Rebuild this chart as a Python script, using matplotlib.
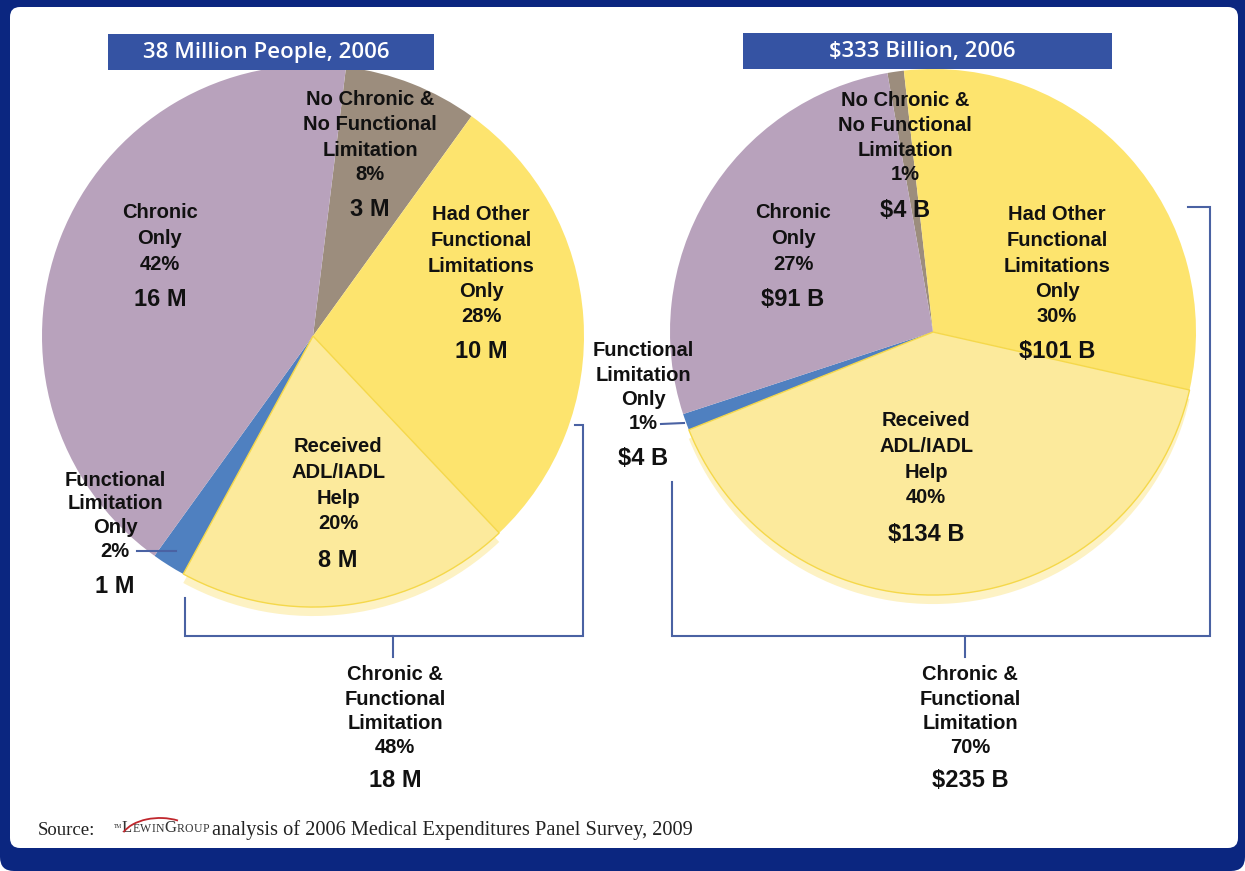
import matplotlib
matplotlib.use("Agg")
import matplotlib.pyplot as plt
from matplotlib.patches import Rectangle, FancyBboxPatch, Wedge, Arc

# ---------------- data ----------------
segment_names = ["No Chronic &\nNo Functional\nLimitation",
                 "Had Other\nFunctional\nLimitations\nOnly",
                 "Received\nADL/IADL\nHelp",
                 "Functional\nLimitation\nOnly",
                 "Chronic\nOnly"]
people_pct = [8, 28, 20, 2, 42]
people_vals = ["3 M", "10 M", "8 M", "1 M", "16 M"]
spend_pct = [1, 30, 40, 1, 27]
spend_vals = ["$4 B", "$101 B", "$134 B", "$4 B", "$91 B"]
combined_name = "Chronic &\nFunctional\nLimitation"
combined_pct = [48, 70]
combined_vals = ["18 M", "$235 B"]
titles = ["38 Million People, 2006", "$333 Billion, 2006"]
source_text = "analysis of 2006 Medical Expenditures Panel Survey, 2009"

# ---------------- style ----------------
W, H = 1245, 871
NAVY = "#0b2680"
BANNER = "#3553a3"
LINE = "#4a62a3"
colors = ["#9c8d7d", "#fde46e", "#fcea9c", "#4f80c0", "#b8a2bc"]
RIM = "#fdf2c4"
FONT = "Liberation Sans"

fig = plt.figure(figsize=(W / 100, H / 100), dpi=100)
fig.patch.set_facecolor("white")
ax = fig.add_axes([0, 0, 1, 1])
ax.set_xlim(0, W)
ax.set_ylim(0, H)

def Y(y):
    return H - y

# frame
ax.add_patch(FancyBboxPatch((0, 0), W, H, boxstyle="round,pad=0,rounding_size=14",
                            fc=NAVY, ec="none", zorder=0))
ax.add_patch(Rectangle((0, H / 2), W, H / 2, fc=NAVY, ec="none", zorder=0))
ax.add_patch(FancyBboxPatch((10, Y(848)), 1238 - 10, 848 - 7,
                            boxstyle="round,pad=0,rounding_size=10",
                            fc="white", ec="none", zorder=0.5))

def draw_pie(pcts, center, radius, startangle, explode_px):
    cx, cy = center
    explode = [0, 0, explode_px / radius, 0, 0]
    wedges, _ = ax.pie(pcts, colors=colors, startangle=startangle, counterclock=False,
                       center=(cx, Y(cy)), radius=radius, explode=explode,
                       wedgeprops=dict(linewidth=0), frame=True)
    for w in wedges:
        w.set_zorder(2)
    w = wedges[2]
    rim = Wedge((w.center[0], w.center[1] - 9), w.r, w.theta1, w.theta2,
                fc=RIM, ec="none", zorder=1.5)
    ax.add_patch(rim)
    edge = Wedge(w.center, w.r, w.theta1, w.theta2, fc="none", ec="#f5d84a",
                 lw=1.0, zorder=2.1)
    ax.add_patch(edge)
    return wedges

draw_pie(people_pct, (313, 336), 271, 83, 11)
draw_pie(spend_pct, (933, 332), 263, 100, 12)

def label(x, y_top, name, pct, val, step=25.5, gap=35, size=14.5, vsize=17):
    lines = name.split("\n") + [f"{pct}%"]
    for i, t in enumerate(lines):
        ax.text(x, Y(y_top + i * step), t, ha="center", va="center", fontsize=size,
                fontweight="bold", family=FONT, color="#111111", zorder=5)
    ax.text(x, Y(y_top + (len(lines) - 1) * step + gap), val, ha="center", va="center",
            fontsize=vsize, fontweight="bold", family=FONT, color="#111111", zorder=5)

# left pie labels
label(370, 100, segment_names[0], people_pct[0], people_vals[0], step=25, gap=35)
label(481, 215, segment_names[1], people_pct[1], people_vals[1])
label(338, 447, segment_names[2], people_pct[2], people_vals[2], gap=37)
label(115, 480, segment_names[3], people_pct[3], people_vals[3], step=23.7)
label(160, 213, segment_names[4], people_pct[4], people_vals[4])
label(395, 675, combined_name, combined_pct[0], combined_vals[0], step=24, gap=33)

# right pie labels
label(905, 101, segment_names[0], spend_pct[0], spend_vals[0], step=24.5, gap=36)
label(1057, 215, segment_names[1], spend_pct[1], spend_vals[1])
label(926, 421, segment_names[2], spend_pct[2], spend_vals[2], gap=37)
label(643, 351, segment_names[3], spend_pct[3], spend_vals[3], step=24.3)
label(793, 213, segment_names[4], spend_pct[4], spend_vals[4])
label(970, 675, combined_name, combined_pct[1], combined_vals[1], step=24, gap=33)

# leader lines for the small slices
ax.plot([137, 176], [Y(551), Y(551)], color=LINE, lw=1.5, zorder=6)
ax.plot([661, 684], [Y(424), Y(423)], color=LINE, lw=1.5, zorder=6)

# brackets
def poly(xs, ys):
    ax.plot(xs, [Y(v) for v in ys], color=LINE, lw=1.5, zorder=6, solid_joinstyle="miter")

poly([185, 185, 583, 583, 575], [598, 636, 636, 425, 425])
poly([393, 393], [636, 657])
poly([672, 672, 1210, 1210, 1188], [482, 636, 636, 207, 207])
poly([965, 965], [636, 657])

# banners
for (x0, x1, y0, y1), t in zip([(108, 434, 34, 70), (743, 1112, 33, 69)], titles):
    ax.add_patch(Rectangle((x0, Y(y1)), x1 - x0, y1 - y0, fc=BANNER, ec="none", zorder=7))
    ax.text((x0 + x1) / 2 - 5, Y((y0 + y1) / 2 + 1), t, ha="center", va="center",
            fontsize=16, family="Open Sans", fontweight="semibold", color="white", zorder=8)

# source line
ax.text(38, Y(830), "Source:", ha="left", va="center", fontsize=13.5,
        family="Liberation Serif", color="#222222", zorder=8)
ax.text(114, Y(826), "TM", ha="left", va="center", fontsize=4,
        family="Liberation Serif", color="#222222", zorder=8)
renderer = fig.canvas.get_renderer()
inv = ax.transData.inverted()
xx = 122
for ch, fs in zip("LEWINGROUP", [12, 8.5, 8.5, 8.5, 8.5, 12, 8.5, 8.5, 8.5, 8.5]):
    t = ax.text(xx, Y(832), ch, ha="left", va="baseline", fontsize=fs,
                family="Liberation Serif", color="#333333", zorder=8)
    bb = t.get_window_extent(renderer)
    x1 = inv.transform((bb.x1, bb.y0))[0]
    xx = x1 + 0.3
ax.add_patch(Arc((160, Y(842)), 80, 48, theta1=50, theta2=165, color="#c0272d", lw=1.3, zorder=8))
ax.text(212, Y(830), source_text, ha="left", va="center", fontsize=14.7,
        family="Liberation Serif", color="#222222", zorder=8)

ax.set_xlim(0, W)
ax.set_ylim(0, H)
ax.set_aspect("auto")
ax.axis("off")
fig.savefig("out.png", dpi=100, facecolor="white")
